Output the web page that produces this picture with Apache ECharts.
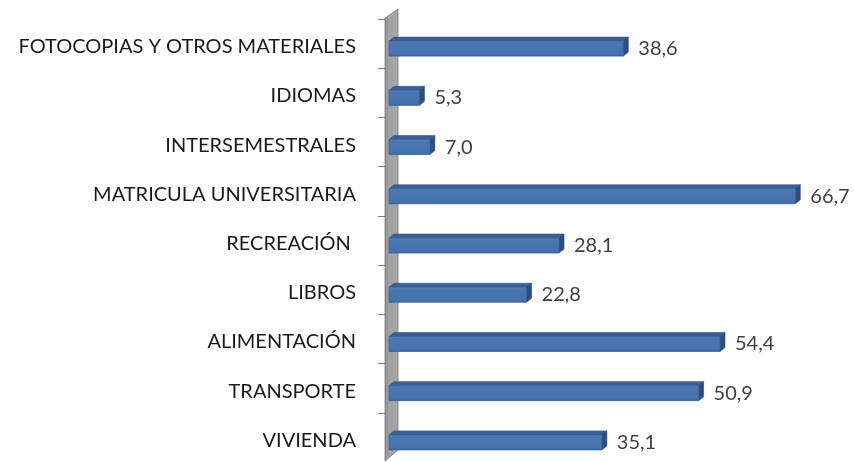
<!DOCTYPE html>
<html>
<head>
<meta charset="utf-8">
<script src="https://cdn.jsdelivr.net/npm/echarts@6/dist/echarts.min.js"></script>
<style>html,body{margin:0;padding:0;background:#fff;}#c{width:854px;height:462px;}</style>
</head>
<body>
<div id="c"></div>
<script>
const categories = ['FOTOCOPIAS Y OTROS MATERIALES','IDIOMAS','INTERSEMESTRALES','MATRICULA UNIVERSITARIA','RECREACIÓN ','LIBROS','ALIMENTACIÓN','TRANSPORTE','VIVIENDA'];
const values = [38.6, 5.3, 7.0, 66.7, 28.1, 22.8, 54.4, 50.9, 35.1];

const FONT = 'Lato';
const chart = echarts.init(document.getElementById('c'), null, {renderer: 'canvas'});

function fmt(v) { return v.toFixed(1).replace('.', ','); }

function renderBar(params, api) {
  const v = api.value(0);
  const idx = api.value(1);
  const p0 = api.coord([0, idx]);
  const p1 = api.coord([v, idx]);
  const c = p0[1];
  const x0 = p0[0] + 2, x1 = p1[0];
  const yT = c - 2.5, yB = c + 12.5;
  const dx = 5, dy = -4;
  return {
    type: 'group',
    children: [
      { type: 'polygon', shape: { points: [[x0, yT], [x0 + dx, yT + dy], [x1 + dx, yT + dy], [x1, yT]] },
        style: { fill: '#3A6196', stroke: '#2F5284', lineWidth: 0.6 } },
      { type: 'polygon', shape: { points: [[x1, yT], [x1 + dx, yT + dy], [x1 + dx, yB + dy], [x1, yB]] },
        style: { fill: '#2D4E7E', stroke: '#284674', lineWidth: 0.6 } },
      { type: 'rect', shape: { x: x0, y: yT, width: x1 - x0, height: yB - yT },
        style: { fill: new echarts.graphic.LinearGradient(0, 0, 0, 1, [
            { offset: 0, color: '#5A85BD' }, { offset: 0.15, color: '#4A77B1' },
            { offset: 0.85, color: '#4572AC' }, { offset: 1, color: '#3A639A' }]),
          stroke: '#3A6196', lineWidth: 0.8 } },
      { type: 'text', x: x1 + dx + 10, y: c + 5,
        style: { text: fmt(v), fill: '#404040', font: '20px ' + FONT, verticalAlign: 'middle', align: 'left' } }
    ]
  };
}

function renderWall(params, api) {
  const cs = params.coordSys;
  const gx = cs.x, gy = cs.y, h = cs.height;
  return {
    type: 'polygon',
    shape: { points: [[gx - 2, gy - 1], [gx + 11, gy - 10], [gx + 11, gy + h - 12], [gx - 2, gy + h - 1]] },
    style: { fill: new echarts.graphic.LinearGradient(0, 0, 1, 0, [
        { offset: 0, color: '#8E8E8E' }, { offset: 0.3, color: '#A2A2A2' }, { offset: 1, color: '#A8A8A8' }]),
      stroke: '#7A7A7A', lineWidth: 0.8 }
  };
}

const option = {
  animation: false,
  backgroundColor: '#ffffff',
  grid: { left: 387, top: 19, height: 444, width: 428.5, containLabel: false },
  xAxis: { type: 'value', min: 0, max: 70, show: false },
  yAxis: {
    type: 'category', inverse: true, data: categories,
    axisLine: { show: false },
    axisTick: { show: true, length: 9, lineStyle: { color: '#7F7F7F', width: 1 } },
    axisLabel: { color: '#1A1A1A', fontFamily: FONT, fontSize: 20, margin: 31, verticalAlign: 'top', lineHeight: 6 },
    splitLine: { show: false }
  },
  series: [
    { type: 'custom', z: 1, renderItem: renderWall, data: [[0, 0]], encode: { x: 0, y: 1 }, clip: false, silent: true },
    { type: 'custom', z: 2, renderItem: renderBar, encode: { x: 0, y: 1 }, clip: false,
      data: values.map((v, i) => [v, i]) }
  ]
};
chart.setOption(option);
</script>
</body>
</html>
